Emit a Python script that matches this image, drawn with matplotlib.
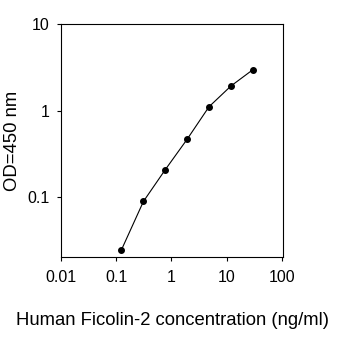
import matplotlib
matplotlib.use("Agg")
import matplotlib.pyplot as plt
from matplotlib.ticker import FixedLocator, FixedFormatter, NullLocator

conc = [0.123, 0.31, 0.77, 1.92, 4.8, 12, 30]
od = [0.0243, 0.089, 0.207, 0.466, 1.11, 1.93, 2.98]
xticks = [0.01, 0.1, 1, 10, 100]
xlabels = ["0.01", "0.1", "1", "10", "100"]
yticks = [0.1, 1, 10]
ylabels = ["0.1", "1", "10"]

plt.rcParams['font.family'] = ['Liberation Sans', 'DejaVu Sans']

fig = plt.figure(figsize=(3.37, 3.39), dpi=100)
W, H = 337, 339
ax = fig.add_axes([61.3 / W, 1 - 257 / H, (283.3 - 61.3) / W, (257 - 24.3) / H])
ax.plot(conc, od, color='black', lw=0.8, marker='o', ms=4, mfc='black', mec='black')
ax.set_xscale('log')
ax.set_yscale('log')
ax.set_xlim(0.01, 107)
ax.set_ylim(0.0202, 10)
ax.xaxis.set_major_locator(FixedLocator(xticks))
ax.xaxis.set_major_formatter(FixedFormatter(xlabels))
ax.yaxis.set_major_locator(FixedLocator(yticks))
ax.yaxis.set_major_formatter(FixedFormatter(ylabels))
ax.xaxis.set_minor_locator(NullLocator())
ax.yaxis.set_minor_locator(NullLocator())
ax.tick_params(direction='out', length=3, width=0.8, labelsize=11.5)
ax.tick_params(axis='x', pad=6)
ax.tick_params(axis='y', pad=5.5)
for s in ax.spines.values():
    s.set_linewidth(0.8)
ax.set_xlabel("Human Ficolin-2 concentration (ng/ml)", fontsize=13.3, labelpad=20)
ax.set_ylabel("OD=450 nm", fontsize=13.3)
ax.yaxis.set_label_coords(-0.18, 0.5)
fig.savefig("out.png", dpi=100)
